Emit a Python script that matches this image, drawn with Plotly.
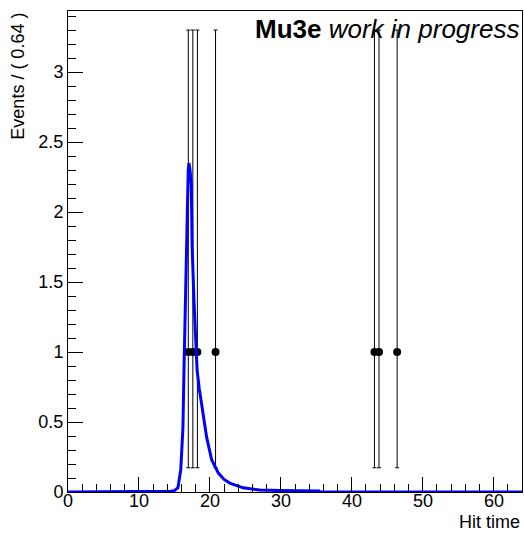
import plotly.graph_objects as go

# Data points (bin width 0.64), Poisson errors for n=1
data_x = [16.96, 17.6, 18.24, 20.8, 43.2, 43.84, 46.4]
data_y = [1, 1, 1, 1, 1, 1, 1]
err_hi = [2.30, 2.30, 2.30, 2.30, 2.30, 2.30, 2.30]
err_lo = [0.827, 0.827, 0.827, 0.827, 0.827, 0.827, 0.827]

# PDF curve
curve_x = [0, 14.0, 14.5, 15.0, 15.5, 15.9, 16.2, 16.35, 16.5, 16.6, 16.75, 16.85, 16.95,
           17.05, 17.2, 17.38, 17.5, 17.76, 18.04, 18.2, 18.5, 18.85, 19.2, 19.55, 20.25,
           21.2, 22.0, 22.8, 24.7, 27.0, 29.9, 35.4, 35.5, 64]
curve_y = [0, 0, 0.005, 0.01, 0.03, 0.16, 0.46, 0.87, 1.23, 1.66, 1.95, 2.15, 2.3,
           2.35, 2.3, 2.2, 1.75, 1.37, 1.09, 0.87, 0.74, 0.63, 0.5, 0.39, 0.23,
           0.135, 0.09, 0.064, 0.03, 0.014, 0.01, 0.008, 0, 0]

x_ticks = [0, 10, 20, 30, 40, 50, 60]
x_tick_text = ["0", "10", "20", "30", "40", "50", "60"]
y_ticks = [0, 0.5, 1, 1.5, 2, 2.5, 3]
y_tick_text = ["0", "0.5", "1", "1.5", "2", "2.5", "3"]

FONT = "Liberation Sans, Arial, sans-serif"

fig = go.Figure()
fig.add_trace(go.Scatter(
    x=data_x, y=data_y, mode="markers",
    marker=dict(color="black", size=8),
    error_y=dict(type="data", symmetric=False, array=err_hi, arrayminus=err_lo,
                 color="black", thickness=1, width=2),
    showlegend=False,
))
fig.add_trace(go.Scatter(
    x=curve_x, y=curve_y, mode="lines",
    line=dict(color="#0000ff", width=3),
    showlegend=False,
))

axis_common = dict(
    showgrid=False, zeroline=False, showline=True, linecolor="black", linewidth=1,
    mirror=True, ticks="inside", tickcolor="black",
    tickfont=dict(family=FONT, size=18, color="black"),
)
fig.update_xaxes(range=[0, 64], tickvals=x_ticks, ticklen=15, showticklabels=False,
                 minor=dict(dtick=2, ticklen=8, ticks="inside", tickcolor="black"),
                 **axis_common)
fig.update_yaxes(range=[0, 3.436], tickvals=y_ticks, ticktext=y_tick_text, ticklen=15,
                 minor=dict(dtick=0.1, ticklen=8, ticks="inside", tickcolor="black"),
                 **axis_common)

# x tick labels placed close to the axis, ROOT style
for xv, txt in zip(x_ticks, x_tick_text):
    fig.add_annotation(xref="x", yref="paper", x=xv, y=-0.0195, xanchor="center", yanchor="middle",
                       text=txt, showarrow=False,
                       font=dict(family=FONT, size=18, color="black"))

fig.add_annotation(xref="paper", yref="paper", x=0.998, y=0.998, xanchor="right", yanchor="top",
                   text="<b>Mu3e</b> <i>work in progress</i>", showarrow=False,
                   font=dict(family=FONT, size=26, color="black"))
fig.add_annotation(xref="paper", yref="paper", x=1.0, y=-0.0873, xanchor="right", yanchor="bottom",
                   text="Hit time", showarrow=False,
                   font=dict(family=FONT, size=18, color="black"))
fig.add_annotation(xref="paper", yref="paper", x=-0.112, y=1.0, xanchor="center", yanchor="top",
                   text="Events / ( 0.64 )", textangle=-90, showarrow=False,
                   font=dict(family=FONT, size=18, color="black"))

fig.update_layout(
    width=524, height=534,
    margin=dict(l=68, r=2, t=11, b=42),
    paper_bgcolor="white", plot_bgcolor="white",
    font=dict(family=FONT, size=18, color="black"),
)
fig.write_html("out.html")
